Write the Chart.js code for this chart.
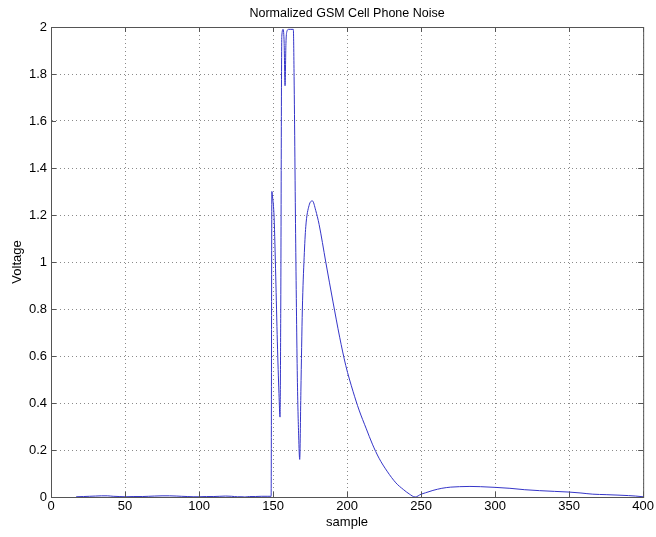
<!DOCTYPE html>
<html>
<head>
<meta charset="utf-8">
<title>Normalized GSM Cell Phone Noise</title>
<script src="https://cdn.jsdelivr.net/npm/chart.js@4.4.1/dist/chart.umd.min.js"></script>
<style>
  html, body { margin: 0; padding: 0; background: #fff; }
  #wrap { width: 656px; height: 537px; }
</style>
</head>
<body>
<div id="wrap"><canvas id="noiseChart"></canvas></div>
<script>
// data
const sampleX = [
  17, 22, 26, 30, 34, 38, 42, 46, 50, 56, 62, 66, 70, 75, 80, 85, 88, 92, 96, 100,
  105, 110, 114, 118, 122, 126, 129, 131, 134, 138, 142, 146, 148.7,
  149.2, 149.6, 150.7, 151.8, 152.9, 154, 154.7, 155.2, 155.9, 156.8, 157.5, 158.1,
  158.7, 159.3, 160.5, 162, 163.7, 164.2, 165.3, 166.4, 167.3, 168, 168.8, 169.8,
  171, 172.1, 174.3, 176.6, 178.8, 181.1, 185.6, 190.5, 195, 199.1, 204, 208.1,
  213, 217.1, 221.6, 227, 233, 238, 242, 246, 250, 253, 258, 264, 270, 276, 283,
  290, 300, 310, 320, 330, 340, 350, 358, 366, 375, 383, 390, 395, 400
];
const voltage = [
  0.001, 0.002, 0.003, 0.004, 0.005, 0.005, 0.003, 0.002, 0.001, 0.002, 0.002, 0.003,
  0.004, 0.005, 0.005, 0.004, 0.003, 0.002, 0.001, 0.001, 0.002, 0.002, 0.003, 0.004,
  0.003, 0.001, 0.001, 0, 0.002, 0.002, 0.003, 0.003, 0.003,
  1.30, 1.28, 1.19, 0.94, 0.66, 0.44, 0.34, 0.80, 1.96, 1.99, 1.93, 1.75,
  1.93, 1.98, 1.99, 1.99, 1.99, 1.79, 1.08, 0.51, 0.26, 0.16, 0.45, 0.80,
  1.02, 1.15, 1.24, 1.26, 1.22, 1.16, 1.00, 0.83, 0.68, 0.56, 0.45, 0.37,
  0.29, 0.225, 0.165, 0.11, 0.06, 0.032, 0.013, 0.0, 0.012, 0.018, 0.028, 0.037, 0.042, 0.044, 0.045,
  0.044, 0.041, 0.037, 0.031, 0.027, 0.024, 0.021, 0.017, 0.012, 0.010, 0.008, 0.006, 0.004, 0.001
];
const xTicks = [0, 50, 100, 150, 200, 250, 300, 350, 400];
const yTicks = [0, 0.2, 0.4, 0.6, 0.8, 1, 1.2, 1.4, 1.6, 1.8, 2];

const points = sampleX.map((x, i) => ({ x: x, y: voltage[i] }));

const FONT = { family: "'Liberation Sans', Arial, sans-serif", size: 13 };

// box round the plot plus small inward ticks, like matlab
const boxPlugin = {
  id: "box",
  afterDraw(chart) {
    const { ctx, chartArea: a, scales } = chart;
    ctx.save();
    ctx.strokeStyle = "#555";
    ctx.lineWidth = 1;
    ctx.strokeRect(a.left + 0.5, a.top + 0.5, a.right - a.left, a.bottom - a.top);
    ctx.beginPath();
    xTicks.forEach((v) => {
      const px = Math.round(scales.x.getPixelForValue(v)) + 0.5;
      ctx.moveTo(px, a.bottom); ctx.lineTo(px, a.bottom - 5);
      ctx.moveTo(px, a.top); ctx.lineTo(px, a.top + 5);
    });
    yTicks.forEach((v) => {
      const py = Math.round(scales.y.getPixelForValue(v)) + 0.5;
      ctx.moveTo(a.left, py); ctx.lineTo(a.left + 5, py);
      ctx.moveTo(a.right, py); ctx.lineTo(a.right - 5, py);
    });
    ctx.stroke();
    ctx.restore();
  }
};

new Chart(document.getElementById("noiseChart"), {
  type: "line",
  data: {
    datasets: [
      {
        label: "noise",
        data: points,
        borderColor: "#3535c8",
        borderWidth: 1,
        pointRadius: 0,
        fill: false,
        cubicInterpolationMode: "monotone"
      }
    ]
  },
  options: {
    responsive: true,
    maintainAspectRatio: false,
    animation: false,
    layout: { padding: { left: 0, right: 12, top: 0, bottom: 0 } },
    plugins: {
      legend: { display: false },
      tooltip: { enabled: false },
      title: {
        display: true,
        fullSize: false,
        text: "Normalized GSM Cell Phone Noise",
        color: "#000",
        font: { family: FONT.family, size: 12.5, weight: "normal" },
        padding: { top: 6, bottom: 6 }
      }
    },
    scales: {
      x: {
        type: "linear",
        min: 0,
        max: 400,
        afterBuildTicks: (s) => { s.ticks = xTicks.map((v) => ({ value: v })); },
        afterFit: (s) => { s.height = 40; },
        ticks: { color: "#000", font: FONT, padding: 2, maxRotation: 0 },
        grid: { color: "#8a8a8a", drawTicks: false, lineWidth: 1 },
        border: { display: true, color: "#555", dash: [1, 3] },
        title: { display: true, text: "sample", color: "#000", font: FONT, padding: { top: 0, bottom: 7 } }
      },
      y: {
        min: 0,
        max: 2,
        afterBuildTicks: (s) => { s.ticks = yTicks.map((v) => ({ value: v })); },
        afterFit: (s) => { s.width = 51; },
        ticks: {
          color: "#000",
          font: FONT,
          padding: 4,
          callback: (v) => String(Number(v.toFixed(1)))
        },
        grid: { color: "#8a8a8a", drawTicks: false, lineWidth: 1 },
        border: { display: true, color: "#555", dash: [1, 3] },
        title: { display: true, text: "Voltage", color: "#000", font: FONT, padding: { top: 10, bottom: 0 } }
      }
    }
  },
  plugins: [boxPlugin]
});
</script>
</body>
</html>
